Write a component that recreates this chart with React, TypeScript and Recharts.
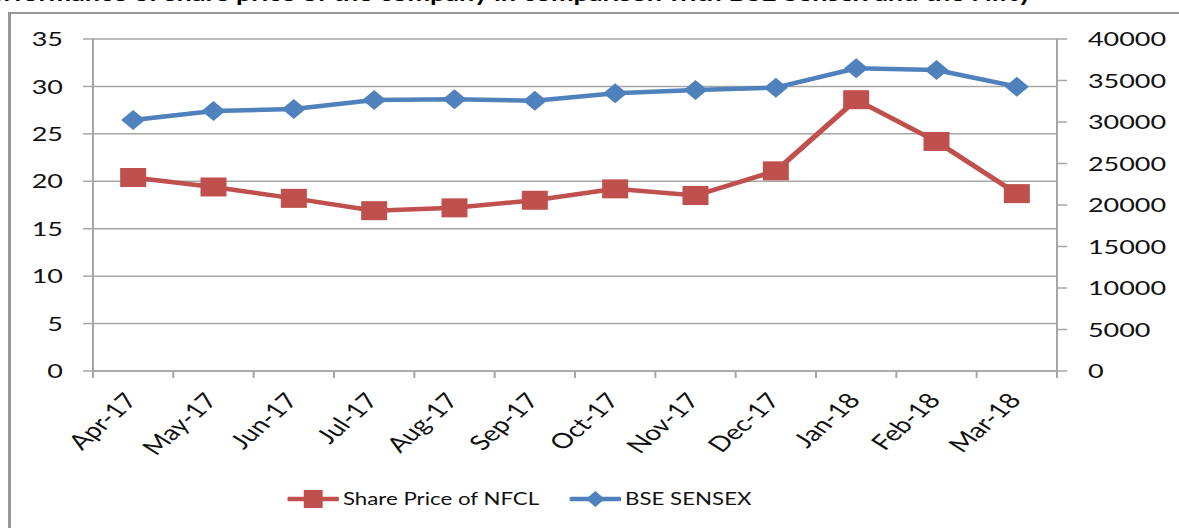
import React from 'react';
import { LineChart, Line, XAxis, YAxis, CartesianGrid } from 'recharts';

const months = ['Apr-17', 'May-17', 'Jun-17', 'Jul-17', 'Aug-17', 'Sep-17', 'Oct-17', 'Nov-17', 'Dec-17', 'Jan-18', 'Feb-18', 'Mar-18'];
const sharePrice = [20.4, 19.4, 18.2, 16.9, 17.2, 18.0, 19.2, 18.5, 21.1, 28.6, 24.2, 18.7];
const sensex = [30240, 31330, 31570, 32650, 32730, 32570, 33450, 33860, 34140, 36470, 36270, 34260];
const leftTicks = [0, 5, 10, 15, 20, 25, 30, 35];
const rightTicks = [0, 5000, 10000, 15000, 20000, 25000, 30000, 35000, 40000];
const seriesNames = ['Share Price of NFCL', 'BSE SENSEX'];
const titleText = 'Performance of share price of the company in comparison with BSE Sensex and the Nifty';

const data = months.map((m, i) => ({ month: m, price: sharePrice[i], sensex: sensex[i] }));

const S = 1.35; // horizontal stretch of the reference picture
const CHART_W = 874;
const CHART_H = 528;
const PLOT_L = 93 / S;
const PLOT_R = 1057 / S;
const BW = (PLOT_R - PLOT_L) / months.length;
const RED = '#C0504D';
const BLUE = '#4F81BD';
const GRID = '#a6a6a6';
const FONT = 'Lato, "DejaVu Sans", sans-serif';
const TICK_SIZE = 10 / S;

const XTick = (props: any) => {
  const { x, y, payload, index } = props;
  const ax = x + 4;
  const ay = y + 30;
  const last = index === months.length - 1;
  return (
    <g>
      <line x1={x - BW / 2} x2={x - BW / 2} y1={y} y2={y + 7} stroke={GRID} strokeWidth={1.5} />
      {last && <line x1={x + BW / 2} x2={x + BW / 2} y1={y} y2={y + 7} stroke={GRID} strokeWidth={1.5} />}
      <text x={ax} y={ay} textAnchor="end" fontSize={21} fontFamily={FONT} fill="#111" transform={`rotate(-50 ${ax} ${ay})`}>
        {payload.value}
      </text>
    </g>
  );
};

const SquareDot = (props: any) => {
  const { cx, cy } = props;
  if (cx == null || cy == null) return null;
  const w = 26 / S;
  const h = 19;
  return <rect x={cx - w / 2} y={cy - h / 2} width={w} height={h} fill={RED} />;
};

const DiamondDot = (props: any) => {
  const { cx, cy } = props;
  if (cx == null || cy == null) return null;
  const w = 24 / S / 2;
  const h = 10;
  return <path d={`M${cx - w},${cy} L${cx},${cy - h} L${cx + w},${cy} L${cx},${cy + h} Z`} fill={BLUE} />;
};

const LegendItem = ({ color, marker, label, left }: { color: string; marker: 'square' | 'diamond'; label: string; left: number }) => (
  <div style={{ position: 'absolute', left, top: 488, height: 22, display: 'flex', alignItems: 'center', whiteSpace: 'nowrap' }}>
    <svg width={38} height={22} style={{ display: 'block' }}>
      <line x1={1} x2={37} y1={11} y2={11} stroke={color} strokeWidth={4.5} strokeLinecap="round" />
      {marker === 'square' ? (
        <rect x={19 - 7} y={2} width={14} height={18} fill={color} />
      ) : (
        <path d="M12,11 L19,3 L26,11 L19,19 Z" fill={color} />
      )}
    </svg>
    <span style={{ fontFamily: FONT, fontSize: 16.5, color: '#111', marginLeft: 3 }}>{label}</span>
  </div>
);

export default function App() {
  return (
    <div style={{ position: 'fixed', left: 0, top: 0, width: 1179, height: 528, overflow: 'hidden', background: '#fff' }}>
      <div style={{ position: 'absolute', left: 8, top: 12, right: -4, bottom: -4, borderTop: '2px solid #979797', borderLeft: '3px solid #979797' }} />
      <div style={{ position: 'absolute', left: 0, top: 0, width: CHART_W, height: CHART_H, transform: `scaleX(${S})`, transformOrigin: '0 0' }}>
        <svg width={CHART_W} height={12} style={{ position: 'absolute', left: 0, top: 0 }}>
          <text x={-20} y={1} fontSize={20} fontWeight="bold" fontFamily={FONT} fill="#000">{titleText}</text>
        </svg>
        <LineChart
          width={CHART_W}
          height={CHART_H}
          data={data}
          margin={{ top: 39, right: CHART_W - PLOT_R - 80, bottom: 60, left: PLOT_L - 60 }}
        >
          <CartesianGrid yAxisId="left" vertical={false} stroke={GRID} strokeWidth={1.5} />
          <XAxis
            dataKey="month"
            scale="band"
            height={97}
            interval={0}
            tickSize={0}
            tickMargin={0}
            tickLine={false}
            axisLine={{ stroke: GRID, strokeWidth: 1.5 }}
            tick={<XTick />}
          />
          <YAxis
            yAxisId="left"
            orientation="left"
            width={60}
            domain={[0, 35]}
            ticks={leftTicks}
            interval={0}
            tickSize={TICK_SIZE}
            tickMargin={14.8}
            axisLine={{ stroke: GRID, strokeWidth: 1.5 }}
            tickLine={{ stroke: GRID, strokeWidth: 1.5 }}
            tick={{ fontSize: 20, fontFamily: FONT, fill: '#111' }}
          />
          <YAxis
            yAxisId="right"
            orientation="right"
            width={80}
            domain={[0, 40000]}
            ticks={rightTicks}
            interval={0}
            tickSize={TICK_SIZE}
            tickMargin={15.5}
            axisLine={{ stroke: GRID, strokeWidth: 1.5 }}
            tickLine={{ stroke: GRID, strokeWidth: 1.5 }}
            tick={{ fontSize: 20, fontFamily: FONT, fill: '#111', textAnchor: 'start' }}
          />
          <Line
            yAxisId="right"
            type="linear"
            dataKey="sensex"
            name={seriesNames[1]}
            stroke={BLUE}
            strokeWidth={4.5}
            dot={<DiamondDot />}
            activeDot={false}
            isAnimationActive={false}
          />
          <Line
            yAxisId="left"
            type="linear"
            dataKey="price"
            name={seriesNames[0]}
            stroke={RED}
            strokeWidth={4.5}
            dot={<SquareDot />}
            activeDot={false}
            isAnimationActive={false}
          />
        </LineChart>
        <LegendItem color={RED} marker="square" label={seriesNames[0]} left={213} />
        <LegendItem color={BLUE} marker="diamond" label={seriesNames[1]} left={422} />
      </div>
    </div>
  );
}
